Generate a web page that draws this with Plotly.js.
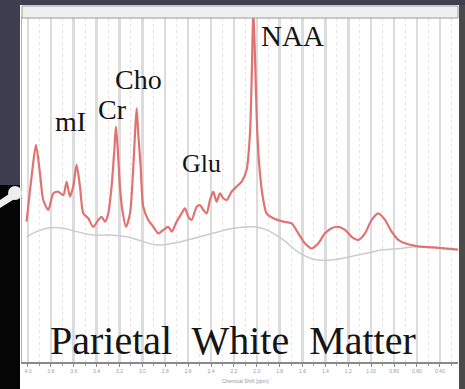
<!DOCTYPE html>
<html>
<head>
<meta charset="utf-8">
<script src="https://cdn.plot.ly/plotly-3.0.1.min.js"></script>
<style>html,body{margin:0;padding:0;background:#fff;}#chart{width:465px;height:389px;}</style>
</head>
<body>
<div id="chart"></div>
<script>
// Chemical shift (ppm) and signal intensity (a.u.)
const spectrumPpm = [4.012,3.968,3.930,3.895,3.866,3.822,3.779,3.735,3.691,3.662,3.633,3.604,3.575,3.545,3.516,3.473,3.429,3.385,3.356,3.327,3.298,3.269,3.245,3.231,3.213,3.196,3.175,3.143,3.108,3.079,3.064,3.050,3.036,3.015,2.992,2.948,2.904,2.861,2.817,2.773,2.744,2.700,2.657,2.628,2.598,2.569,2.526,2.497,2.467,2.438,2.409,2.380,2.351,2.322,2.292,2.263,2.220,2.176,2.132,2.089,2.059,2.042,2.030,2.013,1.995,1.972,1.943,1.914,1.855,1.768,1.695,1.637,1.579,1.520,1.462,1.404,1.346,1.287,1.229,1.171,1.112,1.054,0.996,0.938,0.879,0.821,0.763,0.704,0.603,0.457,0.224];
const spectrumVal = [40.8,53.9,63.1,54.8,47.1,44.2,49.0,49.5,48.5,52.4,48.1,51.0,57.3,51.0,43.2,41.8,39.3,41.3,42.2,40.8,43.2,51.0,61.6,68.4,60.7,51.0,44.2,39.3,43.2,56.8,66.5,73.7,66.5,56.8,45.1,41.3,39.3,37.4,38.4,39.3,37.9,40.8,43.2,44.7,42.2,41.3,45.1,45.6,44.2,43.2,47.1,49.5,46.6,49.0,47.6,47.1,49.5,51.0,52.4,55.8,66.5,85.8,103,85.8,66.5,54.8,47.1,43.2,41.8,40.8,40.3,37.4,34.5,33.0,34.5,37.4,38.9,39.3,38.4,36.4,35.5,37.4,41.3,43.2,41.3,37.9,35.5,34.5,33.7,33.3,32.6];
const baselinePpm = [4.012,3.924,3.808,3.691,3.575,3.429,3.312,3.138,2.992,2.875,2.730,2.497,2.205,2.030,1.914,1.768,1.622,1.477,1.331,1.185,1.040,0.894,0.748,0.603,0.224];
const baselineVal = [36.4,37.9,39.0,38.9,37.9,36.9,36.9,36.4,35.0,34.0,34.5,36.4,38.9,39.3,38.4,35.5,31.6,29.7,29.7,30.6,31.6,32.6,33.0,33.5,32.6];
const tickPpm = [4.0,3.8,3.6,3.4,3.2,3.0,2.8,2.6,2.4,2.2,2.0,1.8,1.6,1.4,1.2,1.0,0.8,0.6,0.4];
const tickLabels = ["4.0","3.8","3.6","3.4","3.2","3.0","2.8","2.6","2.4","2.2","2.0","1.8","1.6","1.4","1.2","1.00","0.80","0.60","0.40"];
const peakNames = ["NAA","Cho","Cr","mI","Glu"];
const peakLabelPpm = [1.692,3.030,3.257,3.624,2.479];
const peakLabelVal = [94.8,82.0,73.5,69.8,57.6];
const chartTitle = "Parietal\u00a0 White\u00a0 Matter";
const axisTitle = "Chemical Shift (ppm)";

const W = 465, H = 389, mL = 22, mR = 7, mT = 18, mB = 27;
const pw = W - mL - mR, ph = H - mT - mB;
const px = v => (v - mL) / pw;
const py = v => (H - mB - v) / ph;

const traces = [
  {x: baselinePpm, y: baselineVal, type: 'scatter', mode: 'lines',
   line: {color: '#cbcbcb', width: 1.5, shape: 'spline', smoothing: 1}, hoverinfo: 'skip'},
  {x: spectrumPpm, y: spectrumVal, type: 'scatter', mode: 'lines',
   line: {color: '#e07272', width: 2.2, shape: 'spline', smoothing: 0.7}, hoverinfo: 'skip'}
];

const annotations = peakNames.map((t, i) => ({
  x: peakLabelPpm[i], y: peakLabelVal[i], xref: 'x', yref: 'y', text: t, showarrow: false,
  xanchor: 'center', yanchor: 'middle',
  font: {family: 'Liberation Serif, Times New Roman, serif', size: i === 0 ? 29 : (i === 4 ? 26 : 28), color: '#151515'}
}));
annotations.push({x: 2.204, y: 6.2, xref: 'x', yref: 'y', text: chartTitle, showarrow: false,
  xanchor: 'center', yanchor: 'middle',
  font: {family: 'Liberation Serif, Times New Roman, serif', size: 40, color: '#151515'}});
annotations.push({x: px(245), y: py(381), xref: 'paper', yref: 'paper', text: axisTitle, showarrow: false,
  xanchor: 'center', yanchor: 'middle', font: {family: 'Arial, sans-serif', size: 5, color: '#999'}});

const shapes = [
  {type: 'rect', xref: 'paper', yref: 'paper', x0: 0, x1: 1, y0: 1, y1: py(6),
   fillcolor: '#efefef', line: {color: '#9a9a9a', width: 1}, layer: 'above'},
  {type: 'rect', xref: 'paper', yref: 'paper', x0: px(0), x1: px(466), y0: py(5), y1: py(-1),
   fillcolor: '#3d3f51', line: {width: 0}, layer: 'above'},
  {type: 'rect', xref: 'paper', yref: 'paper', x0: px(0), x1: px(20), y0: py(185), y1: py(5),
   fillcolor: '#3d3f51', line: {width: 0}, layer: 'above'},
  {type: 'rect', xref: 'paper', yref: 'paper', x0: px(0), x1: px(20), y0: py(390), y1: py(185),
   fillcolor: '#050505', line: {width: 0}, layer: 'above'},
  {type: 'rect', xref: 'paper', yref: 'paper', x0: px(459), x1: px(466), y0: py(390), y1: py(5),
   fillcolor: '#4a4a4a', line: {width: 0}, layer: 'above'},
  {type: 'circle', xref: 'paper', yref: 'paper', x0: px(8), x1: px(22), y0: py(200), y1: py(186),
   fillcolor: '#eeeeee', line: {width: 0}, layer: 'above'},
  {type: 'path', xref: 'paper', yref: 'paper',
   path: `M ${px(0)} ${py(200)} L ${px(12)} ${py(192)} L ${px(16)} ${py(198)} L ${px(0)} ${py(208)} Z`,
   fillcolor: '#eeeeee', line: {width: 0}, layer: 'above'}
];

const layout = {
  width: W, height: H,
  margin: {l: mL, r: mR, t: mT, b: mB, pad: 0},
  paper_bgcolor: '#ffffff', plot_bgcolor: '#ffffff',
  showlegend: false,
  xaxis: {
    range: [4.052, 0.241], tickvals: tickPpm, ticktext: tickLabels,
    showgrid: true, gridcolor: '#dcdcdc', gridwidth: 2.5,
    minor: {dtick: 0.1, showgrid: true, gridcolor: '#efe2e2', griddash: 'dot', gridwidth: 1, ticks: 'outside', ticklen: 2, tickcolor: '#999'},
    showline: true, linecolor: '#8a8a8a', linewidth: 1.5, mirror: true,
    ticks: 'outside', ticklen: 3, tickcolor: '#888',
    tickfont: {family: 'Arial, sans-serif', size: 5, color: '#9a9aaa'},
    zeroline: false, fixedrange: true
  },
  yaxis: {
    range: [0, 100], showgrid: false, zeroline: false, showticklabels: false,
    showline: true, linecolor: '#b0b0b0', linewidth: 1, ticks: '', fixedrange: true
  },
  annotations: annotations,
  shapes: shapes
};

Plotly.newPlot('chart', traces, layout, {displayModeBar: false, staticPlot: true});
</script>
</body>
</html>
